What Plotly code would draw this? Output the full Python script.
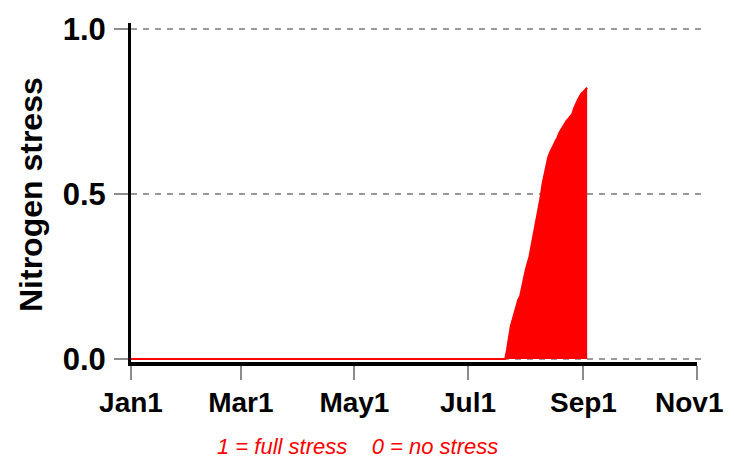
import plotly.graph_objects as go

# ---- data ----
dates = ["2001-01-01", "2001-07-21", "2001-07-22", "2001-07-23", "2001-07-24", "2001-07-25",
         "2001-07-26", "2001-07-27", "2001-07-28", "2001-07-29", "2001-07-30", "2001-07-31",
         "2001-08-01", "2001-08-02", "2001-08-03", "2001-08-04", "2001-08-05", "2001-08-06",
         "2001-08-07", "2001-08-08", "2001-08-09", "2001-08-10", "2001-08-11", "2001-08-12",
         "2001-08-13", "2001-08-14", "2001-08-15", "2001-08-16", "2001-08-17", "2001-08-18",
         "2001-08-19", "2001-08-20", "2001-08-21", "2001-08-22", "2001-08-23", "2001-08-24",
         "2001-08-25", "2001-08-26", "2001-08-27", "2001-08-28", "2001-08-29", "2001-08-30",
         "2001-08-31", "2001-09-01", "2001-09-02", "2001-09-03"]
nitrogen_stress = [0.0, 0.0, 0.03, 0.07, 0.10, 0.12,
                   0.14, 0.16, 0.18, 0.19, 0.22, 0.24,
                   0.27, 0.29, 0.31, 0.34, 0.37, 0.40,
                   0.42, 0.45, 0.49, 0.53, 0.56, 0.59,
                   0.61, 0.625, 0.635, 0.648, 0.66, 0.67,
                   0.685, 0.695, 0.705, 0.715, 0.722, 0.728,
                   0.735, 0.742, 0.76, 0.775, 0.785, 0.795,
                   0.805, 0.81, 0.815, 0.822]

tick_dates = ["2001-01-01", "2001-03-01", "2001-05-01", "2001-07-01", "2001-09-01", "2001-11-01"]
tick_labels = ["Jan1", "Mar1", "May1", "Jul1", "Sep1", "Nov1\u00a0\u00a0"]
y_ticks = [0.0, 0.5, 1.0]
y_tick_labels = ["0.0", "0.5", "1.0"]

y_title = "Nitrogen stress"
note = "1 = full stress\u00a0\u00a0\u00a0\u00a00 = no stress"

# ---- figure ----
fig = go.Figure()
fig.add_trace(go.Scatter(
    x=dates, y=nitrogen_stress, mode="lines",
    line=dict(color="#ff0000", width=2),
    fill="tozeroy", fillcolor="#ff0000",
    hoverinfo="skip", showlegend=False,
))

for yv in y_ticks:
    fig.add_shape(type="line", xref="paper", yref="y", x0=0, x1=1.008, y0=yv, y1=yv,
                  line=dict(color="#9a9a9a", width=2, dash="6px,6px"), layer="below")

fig.add_annotation(text=y_title, xref="paper", yref="paper", x=(31 - 131) / 566, y=0.4926,
                   xanchor="center", yanchor="middle", textangle=-90, showarrow=False,
                   font=dict(family="Liberation Sans, Arial, sans-serif", size=32, color="#000000",
                             weight="bold"))
fig.add_annotation(text=note, xref="paper", yref="paper", x=(357.5 - 131) / 566, y=-0.2507,
                   xanchor="center", yanchor="middle", showarrow=False,
                   font=dict(family="Liberation Sans, Arial, sans-serif", size=22, color="#ff0000",
                             style="italic"))

fig.update_layout(
    width=726, height=450,
    margin=dict(l=123, r=37, t=15, b=96),
    paper_bgcolor="white", plot_bgcolor="white",
    font=dict(family="Liberation Sans, Arial, sans-serif", color="#000000"),
    xaxis=dict(
        type="date", range=["2001-01-01", "2001-11-01"],
        tickmode="array", tickvals=tick_dates, ticktext=tick_labels,
        showgrid=False, zeroline=False, automargin=False,
        showline=True, linecolor="#000000", linewidth=4,
        ticks="outside", ticklen=14, tickwidth=2, tickcolor="#8c8c8c",
        tickfont=dict(size=28, color="#000000", weight="bold"),
        ticklabelstandoff=-2, ticklabeloverflow="allow",
    ),
    yaxis=dict(
        range=[-0.009, 1.018],
        tickmode="array", tickvals=y_ticks, ticktext=y_tick_labels,
        showgrid=False, zeroline=False, automargin=False,
        showline=True, linecolor="#000000", linewidth=3,
        ticks="outside", ticklen=14, tickwidth=2, tickcolor="#8c8c8c",
        tickfont=dict(size=31, color="#000000", weight="bold"),
        ticklabelstandoff=2, ticklabeloverflow="allow",
    ),
)

fig.write_html("out.html")
